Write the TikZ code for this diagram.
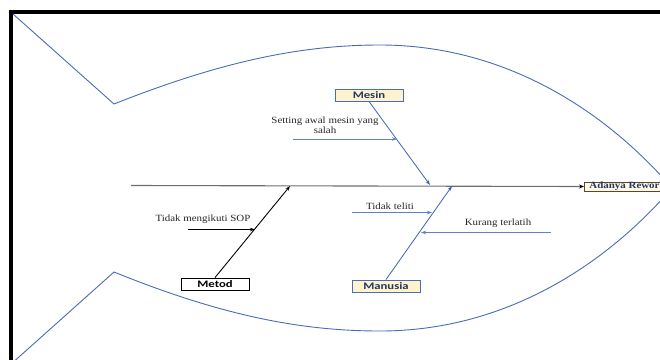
\documentclass[tikz,border=0pt]{standalone}
\usepackage{fontspec}
\setmainfont[FakeStretch=1.15]{Liberation Serif}
\newfontfamily\boxfont[FakeStretch=1.27]{Carlito}
\usetikzlibrary{arrows.meta}

\definecolor{fishline}{HTML}{4A6BB5}
\definecolor{boneblue}{HTML}{3F62AE}
\definecolor{subblue}{HTML}{5F80C4}
\definecolor{navy}{HTML}{1F3864}
\definecolor{catfill}{HTML}{FFF2CC}
\definecolor{catedge}{HTML}{4A6BB5}
\definecolor{goalfill}{HTML}{FFF8E6}
\definecolor{goaledge}{HTML}{5A4A24}
\definecolor{spinegray}{HTML}{6E6E6E}
\definecolor{labeltext}{HTML}{262626}

\tikzset{
  outline/.style={draw=fishline, line width=0.9pt},
  catbox/.style={draw=catedge, fill=catfill, line width=0.9pt, text=navy,
    font=\boxfont\fontsize{10}{11}\selectfont\bfseries,
    minimum width=68pt, minimum height=12pt, inner sep=0pt},
  metodbox/.style={catbox, draw=black, fill=white, text=black},
  goalbox/.style={draw=goaledge, fill=goalfill, line width=0.9pt, text=navy,
    font=\fontsize{9.5}{10}\selectfont\bfseries,
    minimum height=9pt, inner ysep=0pt, inner xsep=5pt, anchor=west},
  cause/.style={text=labeltext, font=\fontsize{9.5}{10}\selectfont, align=center, inner sep=0pt},
  bone/.style={draw=boneblue, line width=0.8pt, -{Stealth[length=5pt,width=3.5pt]}},
  blackbone/.style={draw=black, line width=0.9pt, -{Stealth[length=5pt,width=3.5pt]}},
  subarrow/.style={draw=subblue, line width=0.8pt, -{Stealth[length=5pt,width=3.5pt]}},
  blacksub/.style={draw=black, line width=0.8pt, -{Stealth[length=5pt,width=3.5pt]}},
  spine/.style={draw=spinegray, line width=1.1pt, -{Stealth[length=5pt,width=4pt,color=black]}}
}

\begin{document}
\begin{tikzpicture}[x=1pt,y=-1pt]
\useasboundingbox (0,0) rectangle (660,359);
\clip (0,0) rectangle (660,359);

% frame
\draw[line width=4pt] (11.3,370) -- (11.3,12) -- (680,12);

% fish outline: tail and body
\draw[outline] (13,14) -- (114,104)
  .. controls (220,62) and (300,45) .. (380,45)
  .. controls (510,45) and (610,116) .. (672,188)
  .. controls (610,260) and (510,331) .. (380,331)
  .. controls (300,331) and (220,315) .. (114,272)
  -- (10,365);

% head and category boxes
\node[goalbox] (goal) at (584,186.5) {Adanya Rework};
\node[catbox] (mesin) at (369,95) {Mesin};
\node[catbox] (manusia) at (386,286) {Manusia};
\node[metodbox] (metod) at (215,284) {Metod};

% spine
\coordinate (tail) at (131,185.5);
\draw[spine] (tail) -- (goal.west);

% main bones
\coordinate (mesinEnd) at (430,185);
\coordinate (manusiaEnd) at (452,186);
\coordinate (metodEnd) at (290,186);
\draw[bone] (mesin.south) -- (mesinEnd);
\draw[bone] (manusia.north) -- (manusiaEnd);
\draw[blackbone] (metod.north) -- (metodEnd);

% sub causes
\node[cause] (setting) at (325,125) {Setting awal mesin yang\\salah};
\coordinate (settingFrom) at (293,139);
\coordinate (settingTo) at (397,139);
\draw[subarrow] (settingFrom) -- (settingTo);

\node[cause] (sop) at (203,219) {Tidak mengikuti SOP};
\coordinate (sopFrom) at (188,229.5);
\coordinate (sopTo) at (255,229.5);
\draw[blacksub] (sopFrom) -- (sopTo);

\node[cause] (teliti) at (390,206) {Tidak teliti};
\coordinate (telitiFrom) at (352,212.5);
\coordinate (telitiTo) at (432,212.5);
\draw[subarrow] (telitiFrom) -- (telitiTo);

\node[cause] (latih) at (498,223) {Kurang terlatih};
\coordinate (latihFrom) at (551,232.5);
\coordinate (latihTo) at (421,232.5);
\draw[subarrow] (latihFrom) -- (latihTo);
\end{tikzpicture}
\end{document}
